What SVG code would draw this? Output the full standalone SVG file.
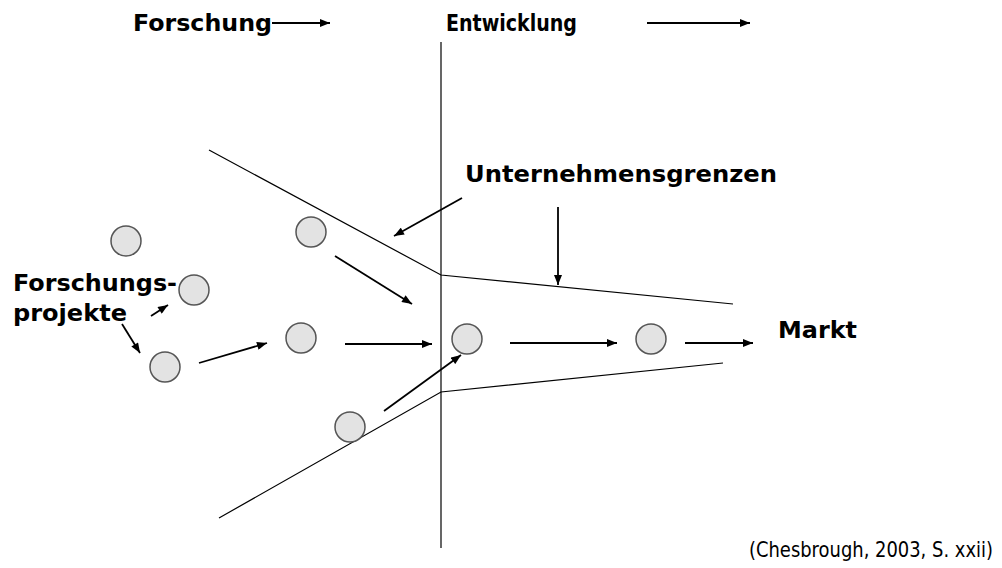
<svg xmlns="http://www.w3.org/2000/svg" width="1002" height="568" viewBox="0 0 1002 568">
<defs>
<marker id="ah" viewBox="0 0 10 8" refX="10" refY="4" markerWidth="11" markerHeight="8" markerUnits="userSpaceOnUse" orient="auto">
<path d="M0,0 L10,4 L0,8 z" fill="#000"/>
</marker>
</defs>
<style>
.b{font-family:"DejaVu Sans",Verdana,sans-serif;font-weight:bold;font-size:23px;fill:#000}
.n{font-family:"DejaVu Sans",Verdana,sans-serif;font-size:21px;fill:#000}
.ln{stroke:#000;stroke-width:1.2;fill:none}
.ar{stroke:#000;stroke-width:1.8;fill:none;marker-end:url(#ah)}
.nd{fill:#e3e3e3;stroke:#555;stroke-width:1.5}
</style>
<rect width="1002" height="568" fill="#fff"/>
<g id="boundaries">
<line class="ln" x1="441" y1="42" x2="441" y2="548"/>
<polyline class="ln" points="209,150 441,275 733,304"/>
<polyline class="ln" points="219,518 441,392 723,363"/>
</g>
<g id="labels">
<text class="b" x="133" y="31" textLength="139" lengthAdjust="spacingAndGlyphs">Forschung</text>
<text class="b" x="446" y="31" textLength="131" lengthAdjust="spacingAndGlyphs">Entwicklung</text>
<text class="b" x="465" y="182" textLength="312" lengthAdjust="spacingAndGlyphs">Unternehmensgrenzen</text>
<text class="b" x="778" y="338" textLength="79" lengthAdjust="spacingAndGlyphs">Markt</text>
<text class="b" x="13" y="291" textLength="164" lengthAdjust="spacingAndGlyphs">Forschungs-</text>
<text class="b" x="13" y="321" textLength="114" lengthAdjust="spacingAndGlyphs">projekte</text>
<text class="n" transform="translate(749,557) scale(0.85,1)" x="0" y="0" textLength="287" lengthAdjust="spacingAndGlyphs">(Chesbrough, 2003, S. xxii)</text>
</g>
<g id="n1"><circle class="nd" cx="126" cy="241" r="15"/></g>
<g id="n2"><circle class="nd" cx="194" cy="290" r="15"/></g>
<g id="n3"><circle class="nd" cx="165" cy="367" r="15"/></g>
<g id="n4"><circle class="nd" cx="311" cy="232" r="15"/></g>
<g id="n5"><circle class="nd" cx="301" cy="338" r="15"/></g>
<g id="n6"><circle class="nd" cx="350" cy="427" r="15"/></g>
<g id="n7"><circle class="nd" cx="467" cy="339" r="15"/></g>
<g id="n8"><circle class="nd" cx="651" cy="339" r="15"/></g>
<g id="connectors">
<line class="ar" x1="272" y1="23" x2="330" y2="23"/>
<line class="ar" x1="647" y1="23" x2="750" y2="23"/>
<line class="ar" x1="462" y1="198" x2="394" y2="236"/>
<line class="ar" x1="558" y1="207" x2="558" y2="285"/>
<line class="ar" x1="151" y1="316" x2="168" y2="305"/>
<line class="ar" x1="122" y1="324" x2="140" y2="353"/>
<line class="ar" x1="199" y1="363" x2="267" y2="343"/>
<line class="ar" x1="335" y1="256" x2="412" y2="304"/>
<line class="ar" x1="345" y1="344" x2="432" y2="344"/>
<line class="ar" x1="384" y1="411" x2="461" y2="355"/>
<line class="ar" x1="510" y1="343" x2="617" y2="343"/>
<line class="ar" x1="685" y1="343" x2="753" y2="343"/>
</g>
</svg>
